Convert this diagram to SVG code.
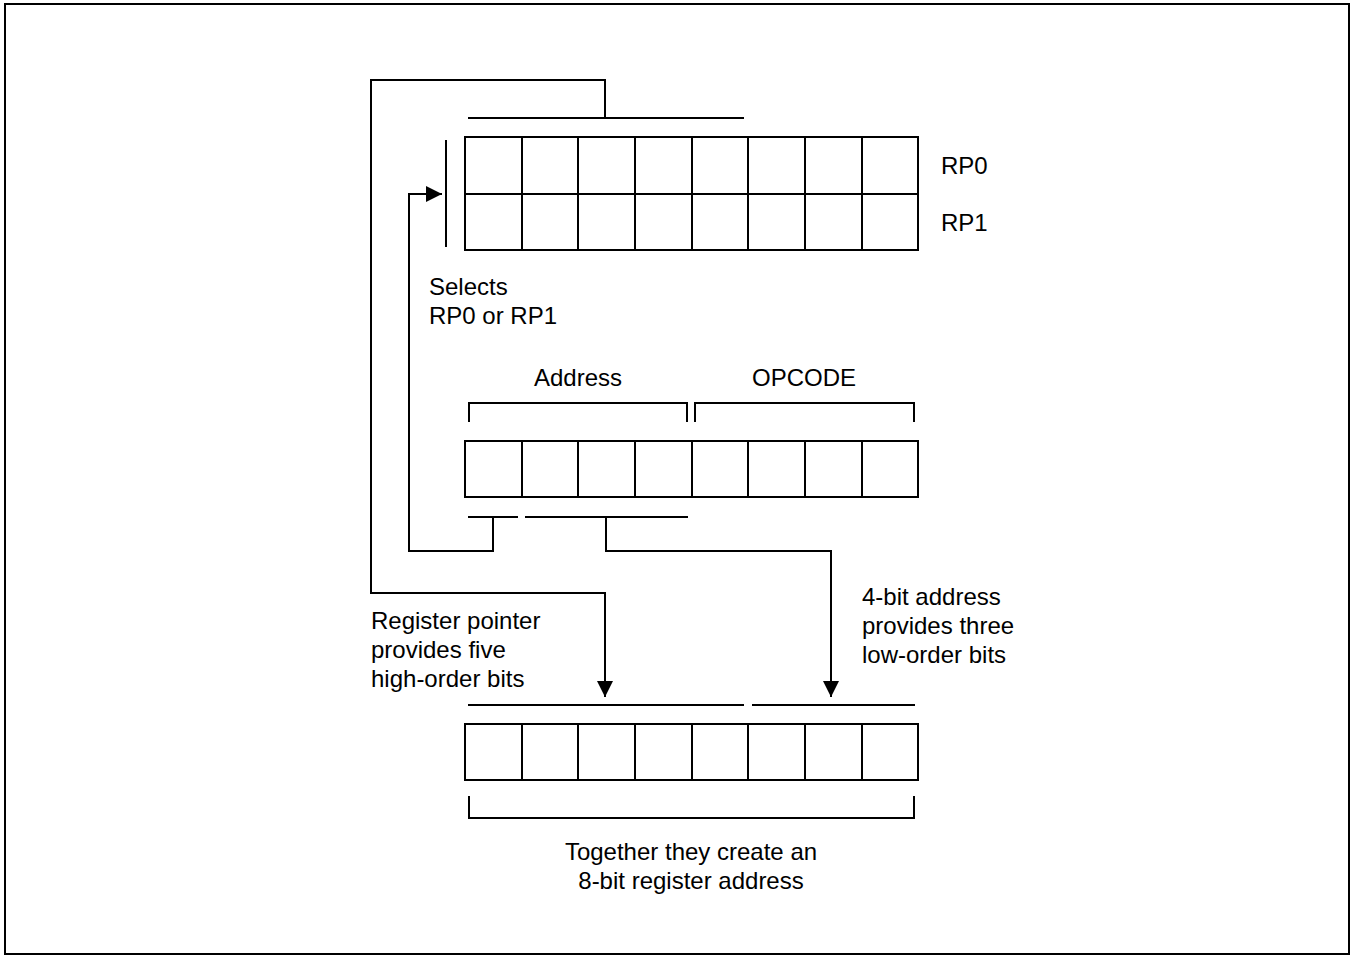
<svg xmlns="http://www.w3.org/2000/svg" width="1355" height="956" viewBox="0 0 1355 956">
<style>
.ln{fill:none;stroke:#000;stroke-width:2;stroke-linecap:square}
.cn{fill:none;stroke:#000;stroke-width:2;stroke-linecap:butt;stroke-linejoin:miter}
.cell{fill:#fff;stroke:#000;stroke-width:2}
.t{font-family:"Liberation Sans",Arial,sans-serif;font-size:24px;fill:#000}
.c{text-anchor:middle}
</style>
<defs>
<marker id="ah" markerUnits="userSpaceOnUse" markerWidth="18" markerHeight="18" refX="16" refY="8" orient="auto">
<path d="M0,0 L16,8 L0,16 z" fill="#000"/>
</marker>
</defs>
<rect x="5" y="4" width="1344" height="950" fill="#fff" stroke="#000" stroke-width="2"/>

<g id="rp-registers">
<rect class="cell" x="465" y="137" width="453" height="113"/>
<path class="ln" d="M465,194 H918 M522,137 V250 M578,137 V250 M635,137 V250 M692,137 V250 M748,137 V250 M805,137 V250 M862,137 V250"/>
<path class="ln" d="M469,118 H743"/>
<path class="ln" d="M446,141 V246"/>
<text class="t" x="941" y="174">RP0</text>
<text class="t" x="941" y="231">RP1</text>
</g>

<g id="selects-label">
<text class="t" x="429" y="295">Selects</text>
<text class="t" x="429" y="324">RP0 or RP1</text>
</g>

<g id="instruction-register">
<text class="t c" x="578" y="386">Address</text>
<text class="t c" x="804" y="386">OPCODE</text>
<path class="ln" d="M469,421 V403 H687 V421 M695,421 V403 H914 V421"/>
<rect class="cell" x="465" y="441" width="453" height="56"/>
<path class="ln" d="M522,441 V497 M578,441 V497 M635,441 V497 M692,441 V497 M748,441 V497 M805,441 V497 M862,441 V497"/>
<path class="ln" d="M469,517 H517 M526,517 H687"/>
</g>

<g id="connectors">
<path class="cn" d="M605,118 V80 H371 V593 H605 V697" marker-end="url(#ah)"/>
<path class="cn" d="M493,517 V551 H409 V194 H442" marker-end="url(#ah)"/>
<path class="cn" d="M606,517 V551 H831 V697" marker-end="url(#ah)"/>
</g>

<g id="register-pointer-label">
<text class="t" x="371" y="629">Register pointer</text>
<text class="t" x="371" y="658">provides five</text>
<text class="t" x="371" y="687">high-order bits</text>
</g>

<g id="address-label">
<text class="t" x="862" y="605">4-bit address</text>
<text class="t" x="862" y="634">provides three</text>
<text class="t" x="862" y="663">low-order bits</text>
</g>

<g id="result-register">
<path class="ln" d="M469,705 H743 M753,705 H914"/>
<rect class="cell" x="465" y="724" width="453" height="56"/>
<path class="ln" d="M522,724 V780 M578,724 V780 M635,724 V780 M692,724 V780 M748,724 V780 M805,724 V780 M862,724 V780"/>
<path class="ln" d="M469,797 V818 H914 V797"/>
<text class="t c" x="691" y="860">Together they create an</text>
<text class="t c" x="691" y="889">8-bit register address</text>
</g>
</svg>
